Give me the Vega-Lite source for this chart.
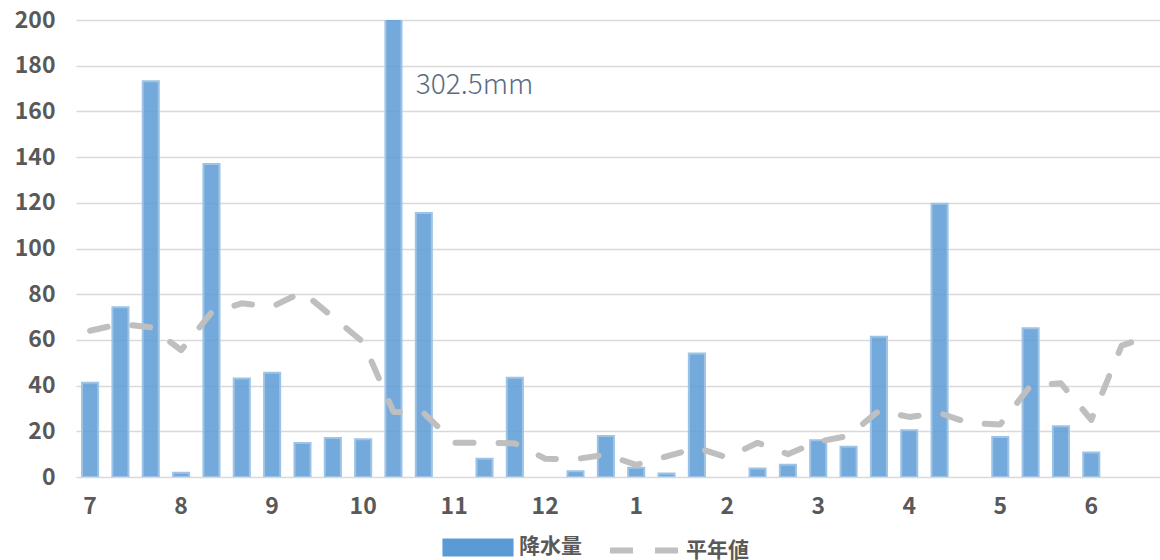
{
  "$schema": "https://vega.github.io/schema/vega-lite/v6.json",
  "width": 1084,
  "height": 457,
  "autosize": {"type": "none"},
  "padding": {"left": 76, "top": 20, "right": 0, "bottom": 83},
  "background": "white",
  "config": {
    "view": {"stroke": null},
    "font": "Noto Sans CJK JP"
  },
  "data": {
    "values": [
      {"p": 0, "rain": 41.2, "normal": 64},
      {"p": 1, "rain": 74.3, "normal": 67},
      {"p": 2, "rain": 173.2, "normal": 65.5},
      {"p": 3, "rain": 1.9, "normal": 55.5},
      {"p": 4, "rain": 137, "normal": 72},
      {"p": 5, "rain": 43.1, "normal": 76},
      {"p": 6, "rain": 45.6, "normal": 74.5},
      {"p": 7, "rain": 14.9, "normal": 81},
      {"p": 8, "rain": 17.1, "normal": 70},
      {"p": 9, "rain": 16.5, "normal": 59},
      {"p": 10, "rain": 302.5, "normal": 28.5},
      {"p": 11, "rain": 115.5, "normal": 28},
      {"p": 12, "rain": 0, "normal": 15},
      {"p": 13, "rain": 8, "normal": 15},
      {"p": 14, "rain": 43.4, "normal": 14.7},
      {"p": 15, "rain": 0, "normal": 8},
      {"p": 16, "rain": 2.5, "normal": 7.8},
      {"p": 17, "rain": 17.9, "normal": 9.8},
      {"p": 18, "rain": 4.1, "normal": 5.3},
      {"p": 19, "rain": 1.5, "normal": 9},
      {"p": 20, "rain": 54.1, "normal": 12.8},
      {"p": 21, "rain": 0, "normal": 8.5},
      {"p": 22, "rain": 3.7, "normal": 15},
      {"p": 23, "rain": 5.4, "normal": 10},
      {"p": 24, "rain": 16.1, "normal": 15.5},
      {"p": 25, "rain": 13.2, "normal": 18},
      {"p": 26, "rain": 61.4, "normal": 29},
      {"p": 27, "rain": 20.5, "normal": 26.3},
      {"p": 28, "rain": 119.6, "normal": 28},
      {"p": 29, "rain": 0, "normal": 23.5},
      {"p": 30, "rain": 17.5, "normal": 23},
      {"p": 31, "rain": 65.1, "normal": 40},
      {"p": 32, "rain": 22.2, "normal": 41},
      {"p": 33, "rain": 10.7, "normal": 25},
      {"p": 34, "rain": 0, "normal": 57.5},
      {"p": 35, "rain": 0, "normal": 62}
    ]
  },
  "encoding": {
    "x": {
      "field": "p",
      "type": "ordinal",
      "scale": {"paddingInner": 0.47, "paddingOuter": 0.1, "align": 1},
      "axis": {
        "title": null,
        "domain": false,
        "ticks": false,
        "tickSize": 0,
        "labelAngle": 0,
        "labelPadding": 29,
        "labelBaseline": "middle",
        "labelFontSize": 23,
        "labelFontWeight": "bold",
        "labelColor": "#595959",
        "labelExpr": "datum.value % 3 === 0 ? ['7','8','9','10','11','12','1','2','3','4','5','6'][floor(datum.value / 3)] : ''"
      }
    }
  },
  "layer": [
    {
      "transform": [{"filter": "datum.rain > 0"}],
      "mark": {"type": "bar", "clip": true, "fillOpacity": 0.85, "stroke": "#9DC3E6", "strokeWidth": 2},
      "encoding": {
        "y": {
          "field": "rain",
          "type": "quantitative",
          "scale": {"domain": [0, 200], "nice": false},
          "axis": {
            "title": null,
            "values": [0, 20, 40, 60, 80, 100, 120, 140, 160, 180, 200],
            "domain": false,
            "ticks": false,
            "tickSize": 0,
            "labelPadding": 21,
            "labelFontSize": 23,
            "labelFontWeight": "bold",
            "labelColor": "#595959",
            "gridColor": "#D9D9D9",
            "gridWidth": 1.3
          }
        },
        "color": {
          "datum": "降水量",
          "scale": {"domain": ["降水量", "平年値"], "range": ["#5B9BD5", "#BFBFBF"]},
          "legend": {
            "title": null,
            "orient": "none",
            "legendX": 364,
            "legendY": 489,
            "direction": "horizontal",
            "symbolType": {"expr": "datum.value === '降水量' ? 'M-0.93,-0.173H0.93V0.173H-0.93Z' : 'stroke'"},
            "symbolSize": 4900,
            "symbolStrokeWidth": 6,
            "symbolDash": {"expr": "datum.value === '降水量' ? [1, 0] : [23, 22]"},
            "symbolStrokeColor": {"expr": "datum.value === '降水量' ? 'transparent' : '#BFBFBF'"},
            "symbolFillColor": {"expr": "datum.value === '降水量' ? '#72A7DA' : 'transparent'"},
            "symbolOpacity": 1,
            "labelFontSize": 21,
            "labelFontWeight": "bold",
            "labelColor": "#595959",
            "labelOffset": 3,
            "columnPadding": 16
          }
        }
      }
    },
    {
      "mark": {"type": "line", "strokeWidth": 6, "strokeDash": [18, 25], "strokeCap": "round", "strokeJoin": "round"},
      "encoding": {
        "y": {"field": "normal", "type": "quantitative"},
        "color": {"datum": "平年値"}
      }
    },
    {
      "data": {"values": [{"label": "302.5mm"}]},
      "mark": {"type": "text", "align": "left", "baseline": "middle", "dx": -8, "fontSize": 28, "fontWeight": 300, "color": "#5B6B83"},
      "encoding": {
        "x": {"datum": 11},
        "y": {"datum": 171},
        "text": {"field": "label"}
      }
    }
  ]
}
